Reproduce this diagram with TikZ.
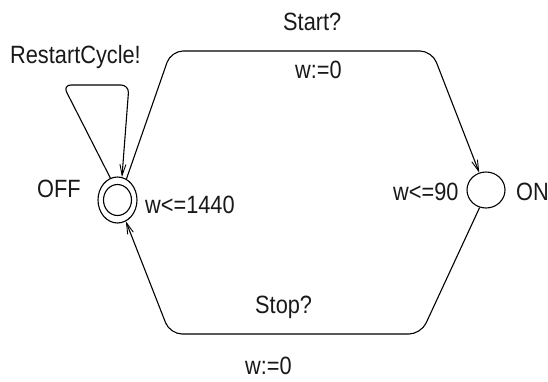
\documentclass[tikz,border=0pt]{standalone}
\usepackage{fontspec}
\setmainfont{Liberation Sans}
\usetikzlibrary{arrows.meta,shapes.geometric}
\newcommand{\narrowtxt}[1]{\scalebox{0.87}[1]{#1}}
\begin{document}
\begin{tikzpicture}[x=1pt,y=-1pt,
  lbl/.style={inner sep=0pt,anchor=base west,font=\fontsize{25}{27}\selectfont,text=black!90},
  loc/.style={draw,ellipse,line width=1.1pt,inner sep=0pt},
  edge/.style={draw,line width=1.1pt,rounded corners=12pt,-{Straight Barb[length=11pt,width=6pt,line width=0.9pt]}}]
\useasboundingbox (0,0) rectangle (548,381);
\node[loc,minimum width=39pt,minimum height=46pt] (off) at (117.5,200) {};
\node[loc,minimum width=28pt,minimum height=31pt] (offin) at (117.5,200) {};
\node[loc,minimum width=38pt,minimum height=36pt] (on) at (486,190) {};
% edges
\draw[edge] (off.67) -- (171,51) -- (432,51) -- (on);
\draw[edge] (on.-110) -- (421,334) -- (170,334) -- (off);
\draw[edge,rounded corners=8pt] (off.108) -- (63,85) -- (129,85) -- (off.79);
% labels
\node[lbl] (lrestart) at (10,63) {\narrowtxt{RestartCycle!}};
\node[lbl] (lstart) at (283,30) {\narrowtxt{Start?}};
\node[lbl] (lup1) at (295,78) {\narrowtxt{w:=0}};
\node[lbl] (linv2) at (393,200) {\narrowtxt{w<=90}};
\node[lbl] (lon) at (516,200) {\narrowtxt{ON}};
\node[lbl] (loff) at (37,197) {\narrowtxt{OFF}};
\node[lbl] (linv1) at (145,213) {\narrowtxt{w<=1440}};
\node[lbl] (lstop) at (255,313) {\narrowtxt{Stop?}};
\node[lbl] (lup2) at (245,374) {\narrowtxt{w:=0}};
\end{tikzpicture}
\end{document}
